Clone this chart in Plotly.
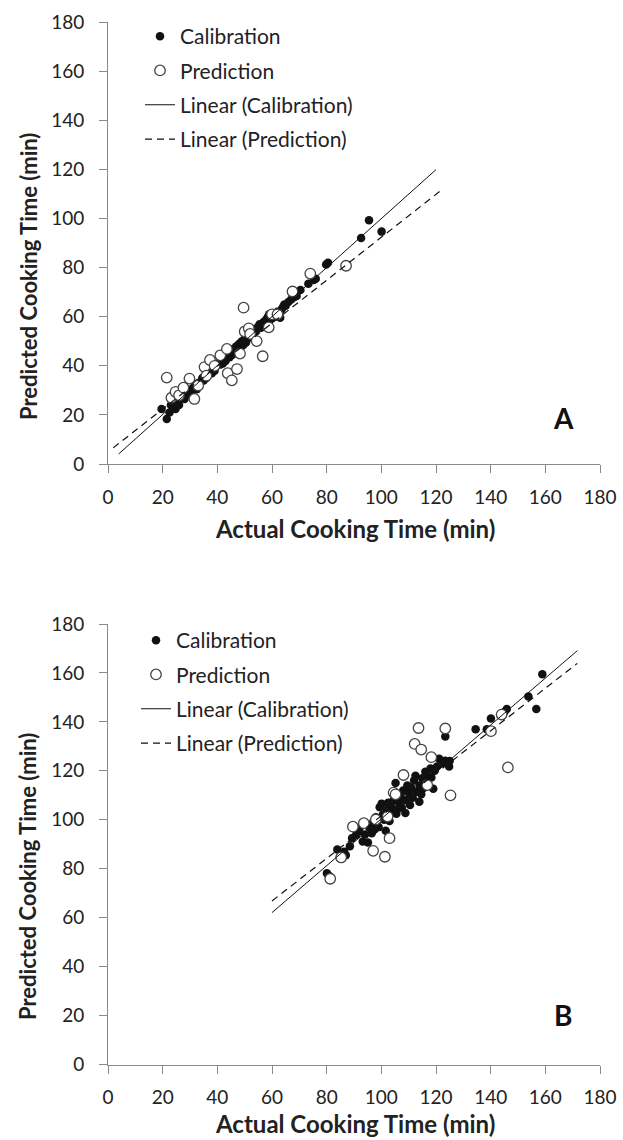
import plotly.graph_objects as go

# ---------------- data ----------------
# Panel A
a_cal_x = [19.6, 21.5, 22.5, 23, 24.7, 25, 26, 27, 28, 28.5, 29, 30, 30.5, 31, 32, 32.5, 33, 34, 34.5, 35,
           35.5, 36, 37, 37.5, 38, 39, 40, 41, 41.5, 42, 42.5, 43, 43.5, 44, 44.5, 45, 45.5, 46, 46.5, 47,
           47.5, 48, 48.5, 49, 49.5, 50, 50.5, 51, 51.5, 52, 52.5, 53, 53.5, 54, 55, 55.5, 56, 57, 57.5, 58,
           58.5, 59, 59.5, 60, 61, 62, 63, 63.5, 64, 64.5, 65, 66, 67, 68, 69, 70.4, 73.3, 75.3, 76, 79.8,
           80.5, 92.6, 95.5, 100.1]
a_cal_y = [22.4, 18.3, 21, 24, 22.4, 25.5, 24, 27, 26.5, 28, 29.5, 30, 28.5, 31, 32, 30.5, 33, 33.5, 35, 34,
           36, 35, 36.5, 38, 37, 38, 41, 40.5, 42, 41, 43, 42, 44, 45, 43.5, 46, 44.5, 47, 45.5, 48,
           46.5, 49, 47.5, 50, 48.5, 51, 49.5, 52, 53, 51.5, 54, 53, 55, 54, 56, 57, 55.5, 58, 57, 59,
           60, 61, 59, 60.5, 60, 62, 59.6, 63, 64, 65, 64.5, 66, 67, 68, 68.5, 70.9, 73.5, 75, 75.5, 81.3,
           82, 92.1, 99.3, 94.7]
a_pred_x = [21.5, 23.2, 24.7, 26, 27.6, 29.8, 31.6, 33, 35.3, 36, 37.3, 39, 41.1, 43.5, 43.8, 45.3, 47.2,
            48.3, 49.6, 50, 51.5, 52, 54.4, 56.6, 58.8, 60, 62, 67.5, 74, 87.1]
a_pred_y = [35.2, 27, 29.4, 28, 31.1, 34.8, 26.5, 32, 39.5, 36, 42.4, 40, 44.3, 46.9, 37, 34.1, 38.7,
            45, 63.7, 54, 55.3, 53, 50.1, 43.9, 55.7, 61, 61, 70.3, 77.6, 80.8]
# trend lines: slope, intercept, x start, x end
a_fit_cal = [0.998, 0.2, 3.9, 120.0]
a_fit_pred = [0.875, 4.9, 1.9, 122.7]

# Panel B
b_cal_x = [80.1, 81, 83.9, 84.9, 86.4, 87, 88.5, 89.3, 90.7, 91.5, 92, 93.2, 94, 95.1, 95.5, 96.5, 97, 97.5,
           98, 98.7, 99.4, 99, 100.1, 100.5, 101, 101.6, 102, 102.5, 103, 103.5, 104, 104.5, 105.2, 105.5,
           106, 106.5, 107, 107.5, 108, 108.8, 109, 109.5, 110, 110.5, 111, 111.5, 112, 112.5, 113, 113.9,
           114, 114.6, 115, 115.5, 116.1, 116.5, 117, 118, 118.3, 119, 119.5, 120.4, 121.2, 122, 123.4,
           123.4, 124.8, 125, 134.5, 138.6, 140.1, 143.7, 145, 145.9, 153.8, 156.7, 158.9]
b_cal_y = [78.1, 77, 87.9, 84.6, 86.9, 85.5, 89.2, 92.5, 93.7, 95, 96.5, 91.1, 94, 90.7, 97, 94.5, 99, 96,
           101, 99.8, 105.1, 97, 106.6, 102, 100, 95.5, 104, 107, 99.5, 105.5, 103, 108, 115, 102.5,
           104.4, 107.5, 110, 105, 112, 102.8, 108, 114, 111, 106, 113, 109, 116, 118, 111.5, 107.4,
           114, 110.4, 117, 113, 119.6, 115, 118, 121, 117.3, 112.7, 120, 121.8, 124.9, 123, 134,
           124.1, 121.8, 124, 137, 137, 141.4, 142.6, 144, 145.3, 150.4, 145.3, 159.5]
b_pred_x = [81.3, 85.3, 89.6, 93.6, 97, 98, 101.3, 102.3, 103, 104.5, 105.2, 108.1, 112.2, 113.6, 114.6,
            116.8, 118.3, 123.4, 125.3, 140.1, 144, 146.3]
b_pred_y = [75.9, 84.6, 97.2, 98.6, 87.3, 100.1, 84.9, 101.3, 92.5, 111.1, 110.4, 118.3, 131, 137.5, 128.7,
            114.2, 125.6, 137.3, 110, 136.2, 143, 121.4]
b_fit_cal = [0.958, 4.6, 60.0, 171.7]
b_fit_pred = [0.869, 14.7, 60.0, 171.7]

tick_vals = [0, 20, 40, 60, 80, 100, 120, 140, 160, 180]
x_title = "Actual Cooking Time (min)"
y_title = "Predicted Cooking Time (min)"
names = ["Calibration", "Prediction", "Linear (Calibration)", "Linear (Prediction)"]

# ---------------- layout helpers ----------------
W, H = 623, 1140
def px(x):
    return x / W
def py(y):
    return 1 - y / H

FONT = "Lato, Carlito, 'Open Sans', sans-serif"
AXC = "#8a8a8a"
TXT = "#222222"

fig = go.Figure()

def fit_line(p):
    m, b, x0, x1 = p
    xs = [x0, x1]
    return xs, [m * v + b for v in xs]

def add_panel(xa, ya, leg, cx, cy, px_, py_, fc, fp, grp):
    fig.add_trace(go.Scatter(x=cx, y=cy, mode="markers", name=names[0],
                             marker=dict(color="#111111", size=8.5, line=dict(width=0)),
                             xaxis=xa, yaxis=ya, legend=leg, legendgroup=grp + "1"))
    fig.add_trace(go.Scatter(x=px_, y=py_, mode="markers", name=names[1],
                             marker=dict(color="white", size=10.5, line=dict(color="#444444", width=1.3)),
                             xaxis=xa, yaxis=ya, legend=leg, legendgroup=grp + "2"))
    lx, ly = fit_line(fc)
    fig.add_trace(go.Scatter(x=lx, y=ly, mode="lines", name=names[2],
                             line=dict(color="#111111", width=1),
                             xaxis=xa, yaxis=ya, legend=leg, legendgroup=grp + "3"))
    lx, ly = fit_line(fp)
    fig.add_trace(go.Scatter(x=lx, y=ly, mode="lines", name=names[3],
                             line=dict(color="#111111", width=1.2, dash="7px,5px"),
                             xaxis=xa, yaxis=ya, legend=leg, legendgroup=grp + "4"))

add_panel("x", "y", "legend", a_cal_x, a_cal_y, a_pred_x, a_pred_y, a_fit_cal, a_fit_pred, "a")
add_panel("x2", "y2", "legend2", b_cal_x, b_cal_y, b_pred_x, b_pred_y, b_fit_cal, b_fit_pred, "b")

xdom = [px(108), px(600)]
ydomA = [py(464), py(22.3)]
ydomB = [py(1064.5), py(624)]

def axis(dom, anchor, standoff):
    return dict(domain=dom, anchor=anchor, range=[0, 180], tickvals=tick_vals, showgrid=False,
                zeroline=False, showline=True, linecolor=AXC, linewidth=1, ticks="outside",
                ticklen=8, tickcolor=AXC, tickwidth=1, ticklabelstandoff=standoff,
                tickfont=dict(family=FONT, size=19, color=TXT), automargin=False)

legend_common = dict(xanchor="left", yanchor="top", bgcolor="rgba(0,0,0,0)",
                     font=dict(family=FONT, size=21, color=TXT), tracegroupgap=4,
                     borderwidth=0)

fig.update_layout(
    width=W, height=H, margin=dict(l=0, r=0, t=0, b=0),
    paper_bgcolor="white", plot_bgcolor="white",
    xaxis=axis(xdom, "y", 8), yaxis=axis(ydomA, "x", 11),
    xaxis2=axis(xdom, "y2", 8), yaxis2=axis(ydomB, "x2", 11),
    legend=dict(x=px(140), y=py(16), **legend_common),
    legend2=dict(x=px(136), y=py(620), **legend_common),
    showlegend=True,
)

xt_font = dict(family=FONT, size=24, color=TXT, weight="bold")
yt_font = dict(family=FONT, size=22, color=TXT, weight="bold")
lab_font = dict(family=FONT, size=28, color="#111111", weight="bold")
ann = [
    dict(text=x_title, x=px(355), y=py(528), font=xt_font),
    dict(text=y_title, x=px(28), y=py(277), font=yt_font, textangle=-90),
    dict(text="A", x=px(563), y=py(418), font=lab_font),
    dict(text=x_title, x=px(355), y=py(1123), font=xt_font),
    dict(text=y_title, x=px(28), y=py(877), font=yt_font, textangle=-90),
    dict(text="B", x=px(563), y=py(1015), font=lab_font),
]
for a in ann:
    a.update(xref="paper", yref="paper", showarrow=False, xanchor="center", yanchor="middle")
fig.update_layout(annotations=ann)

fig.write_html("out.html", config={"displayModeBar": False},
               post_script="document.body.style.margin='0px';document.body.style.overflow='hidden';")
